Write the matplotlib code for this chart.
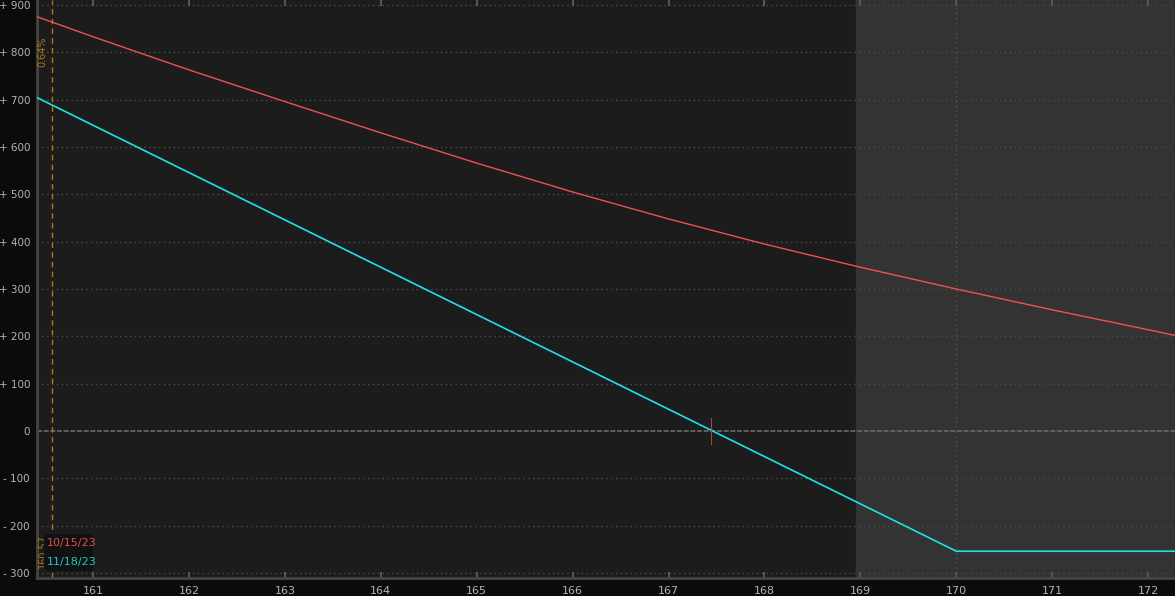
import matplotlib.pyplot as plt
import matplotlib.patches as mpatches

# price points (strikes) and P/L values
prices = [160.42, 161, 162, 163, 164, 165, 166, 167, 168, 169, 170, 171, 172, 172.28]
pl_oct = [875, 833, 763, 696, 630, 566, 505, 448, 395, 346, 300, 256, 214, 202]
pl_nov = [704, 646, 546, 446, 346, 246, 146, 46, -54, -154, -254, -254, -254, -254]

x_ticks = [161, 162, 163, 164, 165, 166, 167, 168, 169, 170, 171, 172]
y_ticks = [-300, -200, -100, 0, 100, 200, 300, 400, 500, 600, 700, 800, 900]
y_labels = ['- 300', '- 200', '- 100', '0', '+ 100', '+ 200', '+ 300', '+ 400',
            '+ 500', '+ 600', '+ 700', '+ 800', '+ 900']

legend_labels = ['10/15/23', '11/18/23']
current_price = 160.57
break_even = 167.44
shade_start = 168.95

fig = plt.figure(figsize=(11.75, 5.96), dpi=100, facecolor='#0b0b0b')
ax = fig.add_axes([37 / 1175, 18 / 596, 1 - 37 / 1175, 1 - 18 / 596])
ax.set_facecolor('#1c1c1c')

x0, x1 = 160.416, 172.28
y0, y1 = -310.6, 910.6
ax.set_xlim(x0, x1)
ax.set_ylim(y0, y1)

# lighter region on the right
ax.axvspan(shade_start, x1, color='#333333', zorder=0)

# grid
for y in y_ticks:
    if y == 0:
        ax.axhline(0, color='#6a6a6a', lw=1.2, ls=(0, (3, 1)), zorder=1)
    else:
        ax.axhline(y, color='#4e4e4e', lw=1.0, ls=(0, (1, 2.5)), zorder=1)
ax.axvline(170, color='#555555', lw=1.0, ls=(0, (1, 2.5)), zorder=1)

# current price marker
ax.axvline(current_price, color='#b07810', lw=1.0, ls=(0, (4, 3)), zorder=2)
ax.text(current_price - 0.045, 833, '0.64%', rotation=90, color='#b07810',
        fontsize=7, ha='right', va='top')
ax.text(current_price - 0.045, -290, '160.57', rotation=90, color='#b07810',
        fontsize=7, ha='right', va='bottom')

# P/L lines
ax.plot(prices, pl_oct, color='#f05050', lw=1.0, zorder=3)
ax.plot(prices, pl_nov, color='#20e0e8', lw=1.2, zorder=3)

# small crosshair at break-even
ax.plot([break_even, break_even], [-28, 28], color='#a04848', lw=0.8, zorder=4)

# legend box
box = mpatches.FancyBboxPatch((0.0062, 0.0121), 0.043, 0.064,
                              boxstyle='round,pad=0,rounding_size=0.004',
                              transform=ax.transAxes, facecolor='#111111',
                              edgecolor='none', zorder=5, mutation_aspect=2)
ax.add_patch(box)
ax.text(0.0088, 0.0606, legend_labels[0], transform=ax.transAxes, color='#e05050',
        fontsize=8, va='center', zorder=6)
ax.text(0.0088, 0.0277, legend_labels[1], transform=ax.transAxes, color='#20c8d0',
        fontsize=8, va='center', zorder=6)

# ticks
ax.set_xticks(x_ticks)
ax.set_yticks(y_ticks)
ax.set_yticklabels(y_labels)
ax.tick_params(axis='x', direction='in', length=4, width=1.5, color='#555555',
               labelcolor='#b4b4b4', labelsize=8, pad=6, top=True)
ax.tick_params(axis='y', length=0, labelcolor='#b4b4b4', labelsize=7.5, pad=5)

for side in ['top', 'right']:
    ax.spines[side].set_visible(False)
ax.spines['left'].set_color('#444444')
ax.spines['left'].set_linewidth(2)
ax.spines['bottom'].set_color('#444444')
ax.spines['bottom'].set_linewidth(2)

fig.savefig('out.png', dpi=100, facecolor=fig.get_facecolor())
